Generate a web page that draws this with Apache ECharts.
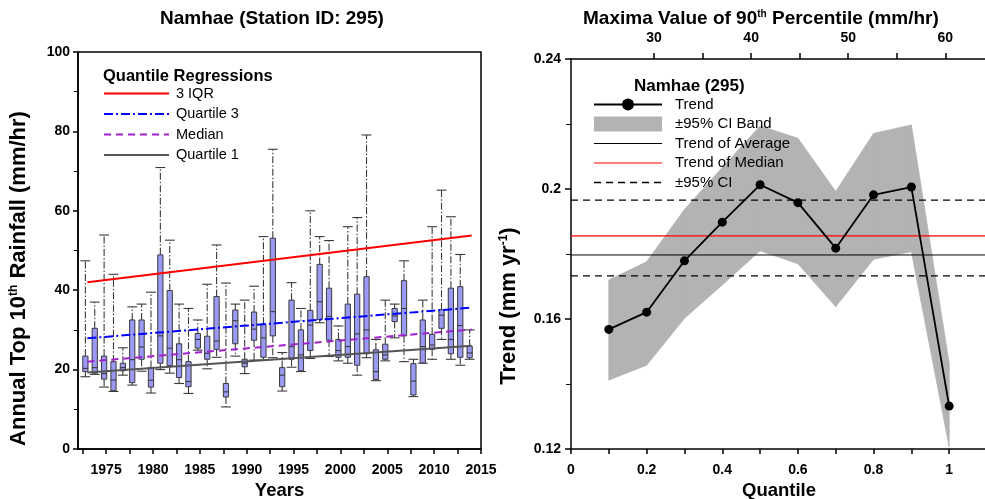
<!DOCTYPE html>
<html><head><meta charset="utf-8">
<script src="https://cdn.jsdelivr.net/npm/echarts@6/dist/echarts.min.js"></script>
<style>html,body{margin:0;padding:0;background:#fff}#c{width:985px;height:499px}</style>
</head><body><div id="c"></div>
<script>
// ---------- Left panel: annual boxplots ----------
const years   = [1973,1974,1975,1976,1977,1978,1979,1980,1981,1982,1983,1984,1985,1986,1987,1988,1989,1990,1991,1992,1993,1994,1995,1996,1997,1998,1999,2000,2001,2002,2003,2004,2005,2006,2007,2008,2009,2010,2011,2012,2013,2014];
const boxMin  = [18.2,18.8,15.6,14.5,18.6,16.1,19.6,14.1,20.0,19.1,16.5,14.0,24.9,20.2,23.1,10.6,23.4,19.0,22.4,22.4,23.0,14.6,20.6,19.5,22.8,31.8,23.3,22.2,21.6,18.6,23.0,17.2,22.2,28.0,22.0,13.2,21.6,22.6,27.6,22.6,21.1,22.6];
const boxQ1   = [19.5,19.1,17.6,14.7,19.7,16.7,22.6,15.6,21.6,21.0,18.0,15.7,25.4,22.6,25.1,13.1,26.5,20.7,27.4,23.1,28.5,15.7,22.6,19.7,24.8,32.6,27.4,23.1,23.1,21.1,24.0,17.5,22.6,32.1,28.5,13.6,21.7,25.1,30.4,24.0,23.1,23.0];
const boxMed  = [20.3,20.5,19.0,17.4,20.5,22.5,25.7,17.3,28.5,25.4,22.5,17.0,27.6,24.1,27.2,14.4,32.3,21.6,30.2,28.0,34.6,18.6,25.8,23.7,31.2,37.1,33.4,24.8,25.8,29.0,30.0,19.5,23.7,33.5,35.4,17.1,25.8,26.2,33.7,27.6,31.1,24.2];
const boxQ3   = [23.4,30.4,23.4,22.0,21.6,32.5,32.5,20.5,48.9,39.9,26.5,22.0,29.1,28.4,38.4,16.5,35.0,22.6,34.5,31.4,53.1,20.5,37.5,30.0,34.9,46.5,40.5,27.6,36.5,39.0,43.4,25.0,26.4,35.4,42.4,21.5,32.5,28.9,35.1,40.5,40.9,25.9];
const boxMax  = [47.4,37.0,53.9,44.0,25.5,35.8,36.5,39.5,70.9,52.6,36.5,35.4,32.5,41.5,51.4,41.8,36.5,37.5,41.0,53.5,75.5,24.3,41.9,35.4,60.0,53.5,52.5,31.0,56.0,58.3,79.1,27.6,37.5,36.5,47.4,22.6,37.5,56.0,65.2,58.5,49.0,30.0];

// quantile regression lines (end points read at 1973 and 2014)
const regYears    = [1973, 2014];
const reg3IQR     = [42.0, 53.8];
const regQuart3   = [27.9, 35.6];
const regMedian   = [22.0, 30.1];
const regQuart1   = [19.3, 26.0];

const leftXLabels = [1975,1980,1985,1990,1995,2000,2005,2010,2015];
const leftXTicks  = [1972.5,1975,1977.5,1980,1982.5,1985,1987.5,1990,1992.5,1995,1997.5,2000,2002.5,2005,2007.5,2010,2012.5,2015];

// ---------- Right panel: quantile trends ----------
const quantiles = [0.1,0.2,0.3,0.4,0.5,0.6,0.7,0.8,0.9,1.0];
const trend     = [0.1568,0.1621,0.1779,0.1898,0.2013,0.1958,0.1818,0.1982,0.2006,0.1332];
const ciUpper   = [0.1720,0.1776,0.1937,0.2066,0.2194,0.2156,0.1992,0.2171,0.2197,0.1464];
const ciLower   = [0.1412,0.1458,0.1602,0.1705,0.1810,0.1770,0.1638,0.1784,0.1807,0.1207];
const trendAverage = 0.1797;
const trendMedian  = 0.1856;
const ciAvgUpper   = 0.1966;
const ciAvgLower   = 0.1733;
const qXLabels  = [0,0.2,0.4,0.6,0.8,1];
const qXTicks   = [0,0.1,0.2,0.3,0.4,0.5,0.6,0.7,0.8,0.9,1.0];
const topLabels = [30,40,50,60];
const topTicks  = [30,35,40,45,50,55,60,65];

const FF = '"Liberation Sans", Arial, sans-serif';
const boxData = years.map((y,i)=>[y, boxMin[i], boxQ1[i], boxMed[i], boxQ3[i], boxMax[i]]);
const bandData = quantiles.slice(0,-1).map((q,i)=>[q, ciLower[i], ciUpper[i], quantiles[i+1], ciLower[i+1], ciUpper[i+1]]);
const pair = (xs, ys) => xs.map((x,i)=>[x, ys[i]]);
const Q_MIN = 0, Q_MAX = 1.1;
const hline = v => [[Q_MIN, v],[Q_MAX, v]];

const axisLineStyle = {color:'#000', width:1.5};
const tickStyle = {color:'#000', width:1.5};
const lblBold = {color:'#000', fontFamily:FF, fontWeight:'bold', fontSize:14};
const supRich = {sup:{fontFamily:FF, fontWeight:'bold', fontSize:10, verticalAlign:'top', padding:[0,0,8,0]}};
const supRichV = {sup:{fontFamily:FF, fontWeight:'bold', fontSize:12, verticalAlign:'top', padding:[0,0,9,0]}};
const nameStyle = {fontFamily:FF, fontWeight:'bold', fontSize:18.5, color:'#000', rich:supRich};
const noSym = {itemStyle:{opacity:0}};

const chart = echarts.init(document.getElementById('c'));
chart.setOption({
  animation:false,
  backgroundColor:'#fff',
  title:[
    {text:'Namhae (Station ID: 295)', left:155, top:4, textStyle:{fontFamily:FF, fontWeight:'bold', fontSize:19, color:'#000'}},
    {text:'Maxima Value of 90{sup|th} Percentile (mm/hr)', left:578, top:4,
      textStyle:{fontFamily:FF, fontWeight:'bold', fontSize:19, color:'#000', rich:supRich}},
    {text:'Quantile Regressions', left:98, top:63, textStyle:{fontFamily:FF, fontWeight:'bold', fontSize:16.5, color:'#000'}},
    {text:'Namhae (295)', left:629, top:73, textStyle:{fontFamily:FF, fontWeight:'bold', fontSize:17, color:'#000'}}
  ],
  legend:[
    {left:98, top:81, orient:'vertical', itemWidth:65, itemHeight:14, itemGap:5.5,
      textStyle:{fontFamily:FF, fontSize:14.5, color:'#000', padding:[0,0,0,2]},
      data:[Object.assign({name:'3 IQR'}, noSym), Object.assign({name:'Quartile 3'}, noSym),
            Object.assign({name:'Median'}, noSym), Object.assign({name:'Quartile 1'}, noSym)]},
    {left:588, top:92, orient:'vertical', itemWidth:68, itemHeight:15, itemGap:4.5,
      textStyle:{fontFamily:FF, fontSize:15, color:'#000', padding:[0,0,0,8]},
      data:['Trend',
            {name:'±95% CI Band', icon:'rect', itemStyle:{color:'#b3b3b3'}},
            {name:'Trend of Average', itemStyle:{opacity:0}, lineStyle:{width:1}},
            {name:'Trend of Median', itemStyle:{opacity:0}, lineStyle:{width:1.2}},
            {name:'±95% CI', itemStyle:{opacity:0}, lineStyle:{width:1.3}}]}
  ],
  grid:[
    {left:78, top:52, width:403, height:397, show:true, borderColor:'#000', borderWidth:1.5, outerBoundsMode:'none', containLabel:false},
    {left:571, top:59, right:-2, bottom:50, show:false, outerBoundsMode:'none', containLabel:false}
  ],
  xAxis:[
    {gridIndex:0, type:'value', min:1972, max:2015,
      name:'Years', nameLocation:'middle', nameGap:31, nameTextStyle:nameStyle,
      axisLine:{lineStyle:axisLineStyle}, splitLine:{show:false},
      axisTick:{customValues:leftXTicks, length:5, lineStyle:tickStyle},
      axisLabel:Object.assign({customValues:leftXLabels, margin:14, formatter:v=>String(v)}, lblBold)},
    {gridIndex:1, type:'value', min:Q_MIN, max:Q_MAX,
      name:'Quantile', nameLocation:'middle', nameGap:31, nameTextStyle:nameStyle,
      axisLine:{lineStyle:axisLineStyle}, splitLine:{show:false},
      axisTick:{customValues:qXTicks, length:5, lineStyle:tickStyle},
      axisLabel:Object.assign({customValues:qXLabels, margin:14}, lblBold)},
    {gridIndex:1, type:'value', position:'top', min:21.44, max:64.3,
      axisLine:{lineStyle:axisLineStyle}, splitLine:{show:false},
      axisTick:{customValues:topTicks, length:6, lineStyle:tickStyle},
      axisLabel:Object.assign({customValues:topLabels, margin:14}, lblBold)}
  ],
  yAxis:[
    {gridIndex:0, type:'value', min:0, max:100, interval:20,
      name:'Annual Top 10{sup|th} Rainfall (mm/hr)', nameLocation:'middle', nameGap:48,
      nameTextStyle:{fontFamily:FF, fontWeight:'bold', fontSize:22, color:'#000', rich:supRichV, padding:[0,56,0,0]},
      axisLine:{lineStyle:axisLineStyle}, splitLine:{show:false},
      axisTick:{length:5, lineStyle:tickStyle},
      minorTick:{show:true, splitNumber:2, length:4, lineStyle:{color:'#000', width:1}},
      axisLabel:Object.assign({margin:8}, lblBold)},
    {gridIndex:1, type:'value', min:0.12, max:0.24, interval:0.04,
      name:'Trend (mm yr{sup|-1})', nameLocation:'middle', nameGap:51,
      nameTextStyle:{fontFamily:FF, fontWeight:'bold', fontSize:22, color:'#000', rich:supRichV, padding:[0,104,0,0]},
      axisLine:{lineStyle:axisLineStyle}, splitLine:{show:false},
      axisTick:{length:6, lineStyle:tickStyle},
      minorTick:{show:true, splitNumber:2, length:5, lineStyle:{color:'#000', width:1}},
      axisLabel:Object.assign({margin:10}, lblBold)}
  ],
  series:[
    {type:'custom', name:'boxes', xAxisIndex:0, yAxisIndex:0, silent:true, z:2,
      encode:{x:0, y:[1,2,3,4,5]},
      data:boxData,
      renderItem:function(params, api){
        const x = api.value(0);
        const pMin = api.coord([x, api.value(1)]);
        const pQ1  = api.coord([x, api.value(2)]);
        const pMed = api.coord([x, api.value(3)]);
        const pQ3  = api.coord([x, api.value(4)]);
        const pMax = api.coord([x, api.value(5)]);
        const unit = api.size([1,0])[0];
        const bw = unit*0.56, cw = unit*1.05;
        const cx = pMed[0] - 2;
        const ws = {stroke:'#3a3a3a', lineWidth:1.1, lineDash:[7,2,1.5,2], fill:null};
        const cs = {stroke:'#3a3a3a', lineWidth:1.1, fill:null};
        return {type:'group', children:[
          {type:'line', shape:{x1:cx,y1:pQ3[1],x2:cx,y2:pMax[1]}, style:ws},
          {type:'line', shape:{x1:cx,y1:pQ1[1],x2:cx,y2:pMin[1]}, style:ws},
          {type:'line', shape:{x1:cx-cw/2,y1:pMax[1],x2:cx+cw/2,y2:pMax[1]}, style:cs},
          {type:'line', shape:{x1:cx-cw/2,y1:pMin[1],x2:cx+cw/2,y2:pMin[1]}, style:cs},
          {type:'rect', shape:{x:cx-bw/2, y:pQ3[1], width:bw, height:pQ1[1]-pQ3[1]},
            style:{fill:'#9a9af4', stroke:'#3a3a3a', lineWidth:1}},
          {type:'line', shape:{x1:cx-bw/2,y1:pMed[1],x2:cx+bw/2,y2:pMed[1]}, style:cs}
        ]};
      }},
    {type:'line', name:'3 IQR', xAxisIndex:0, yAxisIndex:0, z:5, symbol:'none',
      data:pair(regYears, reg3IQR), lineStyle:{color:'#ff0000', width:2}, itemStyle:{color:'#ff0000'}},
    {type:'line', name:'Quartile 3', xAxisIndex:0, yAxisIndex:0, z:5, symbol:'none',
      data:pair(regYears, regQuart3), lineStyle:{color:'#0000ff', width:2, type:[9,3,2,3]}, itemStyle:{color:'#0000ff'}},
    {type:'line', name:'Median', xAxisIndex:0, yAxisIndex:0, z:5, symbol:'none',
      data:pair(regYears, regMedian), lineStyle:{color:'#a020d0', width:2, type:[7,5]}, itemStyle:{color:'#a020d0'}},
    {type:'line', name:'Quartile 1', xAxisIndex:0, yAxisIndex:0, z:5, symbol:'none',
      data:pair(regYears, regQuart1), lineStyle:{color:'#555555', width:2}, itemStyle:{color:'#555555'}},

    {type:'custom', name:'±95% CI Band', xAxisIndex:1, yAxisIndex:1, silent:true, z:1,
      encode:{x:[0,3], y:[1,2,4,5]},
      data:bandData, itemStyle:{color:'#b3b3b3'},
      renderItem:function(params, api){
        const a = api.coord([api.value(0), api.value(1)]);
        const b = api.coord([api.value(0), api.value(2)]);
        const c = api.coord([api.value(3), api.value(5)]);
        const d = api.coord([api.value(3), api.value(4)]);
        return {type:'polygon', shape:{points:[a,b,c,d]}, style:{fill:'#b3b3b3', stroke:'#b3b3b3', lineWidth:0.8}};
      }},
    {type:'line', name:'Trend of Average', xAxisIndex:1, yAxisIndex:1, symbol:'none', z:3,
      data:hline(trendAverage), lineStyle:{color:'#000', width:1}, itemStyle:{color:'#000'}},
    {type:'line', name:'Trend of Median', xAxisIndex:1, yAxisIndex:1, symbol:'none', z:3,
      data:hline(trendMedian), lineStyle:{color:'#ff0000', width:1.2}, itemStyle:{color:'#ff0000'}},
    {type:'line', name:'±95% CI', xAxisIndex:1, yAxisIndex:1, symbol:'none', z:3,
      data:hline(ciAvgUpper), lineStyle:{color:'#000', width:1.2, type:[7,5]}, itemStyle:{color:'#000'}},
    {type:'line', name:'±95% CI', xAxisIndex:1, yAxisIndex:1, symbol:'none', z:3,
      data:hline(ciAvgLower), lineStyle:{color:'#000', width:1.2, type:[7,5]}, itemStyle:{color:'#000'}},
    {type:'line', name:'Trend', xAxisIndex:1, yAxisIndex:1, z:6, symbol:'circle', symbolSize:9,
      data:pair(quantiles, trend), lineStyle:{color:'#000', width:1.8}, itemStyle:{color:'#000'}}
  ]
});
</script></body></html>
